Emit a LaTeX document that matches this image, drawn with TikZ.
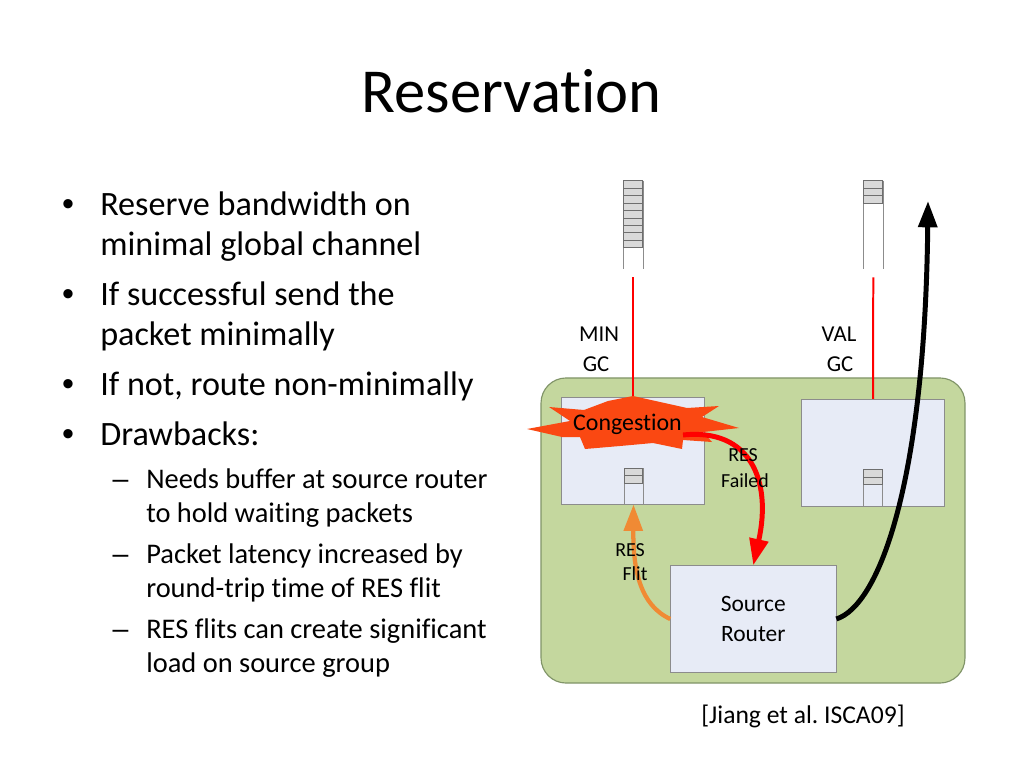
\documentclass[tikz,border=0pt]{standalone}
\usepackage{fontspec}
\setmainfont{Carlito}[Ligatures=NoCommon]
\newfontfamily\arialfont{Liberation Sans}
\usepackage{tikz}
\usetikzlibrary{arrows, arrows.meta}
\usetikzlibrary{positioning,calc}
\frenchspacing
\definecolor{grpgreen}{RGB}{196,215,158}
\definecolor{grpedge}{RGB}{128,148,104}
\definecolor{rtfill}{RGB}{231,235,246}
\definecolor{rtedge}{RGB}{140,140,140}
\definecolor{slotfill}{RGB}{217,217,217}
\definecolor{slotedge}{RGB}{110,110,110}
\definecolor{congred}{RGB}{250,72,18}
\definecolor{flitorange}{RGB}{240,138,52}
\tikzstyle{bul}=[font=\fontsize{24}{29}\selectfont, anchor=base west, inner sep=0pt]
\tikzstyle{subbul}=[font=\fontsize{20}{24}\selectfont, anchor=base west, inner sep=0pt]
\tikzstyle{lbl}=[font=\fontsize{16}{20}\selectfont, anchor=base, inner sep=0pt]
\tikzstyle{smalllbl}=[font=\fontsize{14}{17}\selectfont, anchor=base, inner sep=0pt]
\tikzstyle{router}=[draw=rtedge, fill=rtfill, line width=0.6pt, inner sep=0pt, minimum width=100.5pt, minimum height=75pt]
\tikzstyle{bufcol}=[inner sep=0pt, minimum width=13.6pt]
\tikzstyle{bufside}=[draw=rtedge, line width=0.6pt]
\tikzstyle{slot}=[draw=slotedge, fill=slotfill, line width=0.5pt]
\tikzstyle{gcline}=[draw=red, line width=1.4pt]
\tikzstyle{arrow}=[arrows={-{Triangle[length=18.5pt,width=13pt]}}, line width=3.5pt]

\begin{document}
\begin{tikzpicture}[x=0.703125pt, y=-0.703125pt]
  \fill[white] (0,0) rectangle (1024,768);
  \useasboundingbox (0,0) rectangle (1024,768);

  % title and bullets
  \node[font=\fontsize{44}{53}\selectfont, anchor=base, inner sep=0pt] (title) at (511.5,113) {Reservation};

  \node[bul] (b1) at (100,216) {Reserve bandwidth on};
  \node[bul] (b1a) at (100,256) {minimal global channel};
  \node[bul] (b2) at (100,305) {If successful send the};
  \node[bul] (b2a) at (100,345) {packet minimally};
  \node[bul] (b3) at (100,395) {If not, route non-minimally};
  \node[bul] (b4) at (100,445) {Drawbacks:};
  \foreach \y/\n in {216/1,305/2,395/3,445/4}
    \node[bul, anchor=base, font=\arialfont\fontsize{24}{29}\selectfont] (dot\n) at (68,\y) {•};

  \node[subbul] (s1) at (146,488) {Needs buffer at source router};
  \node[subbul] (s1a) at (146,522) {to hold waiting packets};
  \node[subbul] (s2) at (146,563) {Packet latency increased by};
  \node[subbul] (s2a) at (146,597) {round-trip time of RES flit};
  \node[subbul] (s3) at (146,638) {RES flits can create significant};
  \node[subbul] (s3a) at (146,672) {load on source group};
  \foreach \y/\n in {488/1,563/2,638/3}
    \node[subbul, anchor=base, font=\arialfont\fontsize{20}{24}\selectfont] (dash\n) at (120.5,\y) {–};

  % source group
  \node[draw=grpedge, fill=grpgreen, line width=0.8pt, rounded corners=17.6pt,
        minimum width=298.1pt, minimum height=214.5pt] (grp) at (753,530.5) {};
  \node[router] (minr) at (633,450.8) {};
  \node[router] (valr) at (873,452.7) {};
  \node[router, minimum width=116.2pt, font=\fontsize{16.5}{21}\selectfont, align=center] (src) at (753.3,619) {Source\\Router};

  % global channel buffers
  \node[bufcol, minimum height=61.9pt] (minbuf) at (633,225) {};
  \node[bufcol, minimum height=61.9pt] (valbuf) at (873.3,225) {};
  \draw[bufside] (minbuf.north west) -- (minbuf.south west) (minbuf.north east) -- (minbuf.south east);
  \draw[bufside] (valbuf.north west) -- (valbuf.south west) (valbuf.north east) -- (valbuf.south east);
  \foreach \i in {0,...,8}
    \draw[slot] ($(minbuf.north west)+(0,\i*7.44)$) rectangle ++(19.4,7.44);
  \foreach \i in {0,1,2}
    \draw[slot] ($(valbuf.north west)+(0,\i*7.44)$) rectangle ++(19.4,7.44);

  % router buffers
  \node[bufcol, minimum width=12.9pt, minimum height=25.3pt] (minin) at (633.5,486.3) {};
  \node[bufcol, minimum width=13.1pt, minimum height=25.3pt] (valin) at (873.3,488) {};
  \draw[bufside] (minin.north west) -- (minin.south west) (minin.north east) -- (minin.south east);
  \draw[bufside] (valin.north west) -- (valin.south west) (valin.north east) -- (valin.south east);
  \foreach \i in {0,1} {
    \draw[slot] ($(minin.north west)+(0,\i*7.5)$) rectangle ++(18.4,7.5);
    \draw[slot] ($(valin.north west)+(0,\i*7.3)$) rectangle ++(18.7,7.3);
  }

  \draw[gcline, shorten <=5.6pt] (minbuf.south) -- (minr.north);
  \draw[gcline, shorten <=5.6pt] (valbuf.south) -- (valr.north);
  \node[lbl] (minlbl) at (599,341) {MIN};
  \node[lbl] (mingc) at (596,371) {GC};
  \node[lbl] (vallbl) at (839,341) {VAL};
  \node[lbl] (valgc) at (840,371) {GC};

  % congestion
  \fill[congred] (527,429) -- (570,421) -- (549,407) -- (584,410) -- (608,401) -- (633,396)
    -- (660,402) -- (687,408) -- (719,406) -- (702,417) -- (739,428) -- (703,432)
    -- (712,442) -- (683,440) -- (682,449) -- (653,443) -- (620,446) -- (585,449)
    -- (580,437) -- (562,437) -- cycle;
  \node[lbl, font=\fontsize{16.8}{20}\selectfont] (cong) at (627.5,430) {Congestion};

  % paths
  \coordinate (failstart) at (683,435);
  \coordinate (valexit) at (928,201);
  \draw[arrow, red] (failstart) .. controls (750,428) and (772,480) .. (src.north);
  \draw[arrow, flitorange, line width=3pt] (src.west) .. controls (640,605) and (633,570) .. (minin.south);
  \draw[arrow, black] (src.east) .. controls (880,605) and (925,480) .. (valexit);

  \node[smalllbl] (rf1) at (743,461) {RES};
  \node[smalllbl] (rf2) at (745,487.5) {Failed};
  \node[smalllbl] (fl1) at (630,556.7) {RES};
  \node[smalllbl] (fl2) at (635,580.7) {Flit};

  \node[font=\fontsize{18}{22}\selectfont, anchor=base, inner sep=0pt] (cite) at (803,723) {[Jiang et al. ISCA09]};
\end{tikzpicture}
\end{document}
